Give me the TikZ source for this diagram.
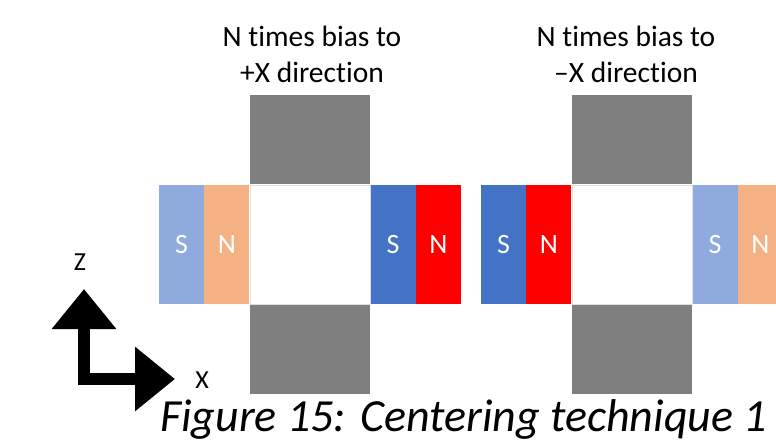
\documentclass[tikz,border=0pt]{standalone}
\usepackage{fontspec}
\setmainfont{Carlito}[Ligatures={TeX,NoCommon}]
\usetikzlibrary{arrows.meta, positioning}

\definecolor{weakS}{HTML}{8FAADC}
\definecolor{weakN}{HTML}{F4B183}
\definecolor{strongS}{HTML}{4472C4}
\definecolor{strongN}{HTML}{FF0000}
\definecolor{yoke}{HTML}{7F7F7F}

\begin{document}
\begin{tikzpicture}[x=1pt, y=-1pt,
  magnet/.style = {minimum width=45pt, minimum height=119pt, inner sep=0pt, text=white, font=\fontsize{28}{28}\selectfont},
  pole/.style = {fill=yoke, minimum width=120pt, minimum height=89pt, inner sep=0pt},
  gap/.style = {draw=gray!25, line width=0.7pt, minimum width=120pt, minimum height=119pt, inner sep=0pt},
  title/.style = {align=center, font=\fontsize{29.5}{36}\selectfont},
  axis/.style = {line width=12pt, line join=miter, {Triangle[length=40pt, width=62pt]}-{Triangle[length=40pt, width=62pt]}},
  node distance=0pt
]
  \useasboundingbox (0,0) rectangle (776,441);
  \clip (0,0) rectangle (776,441);

  % Left setup: bias to +X
  \node[gap] (gapA) at (310,244.5) {};
  \node[pole, above=0pt of gapA] (topA) {};
  \node[pole, below=0pt of gapA] (botA) {};
  \node[magnet, fill=weakN, left=0pt of gapA] (nA1) {N};
  \node[magnet, fill=weakS, left=0pt of nA1] (sA1) {S};
  \node[magnet, fill=strongS, right=0pt of gapA] (sA2) {S};
  \node[magnet, fill=strongN, right=0pt of sA2] (nA2) {N};
  \node[title] (titleA) at (312,54) {N times bias to\\+X direction};

  % Right setup: bias to -X
  \node[gap] (gapB) at (632,244.5) {};
  \node[pole, above=0pt of gapB] (topB) {};
  \node[pole, below=0pt of gapB] (botB) {};
  \node[magnet, fill=strongN, left=0pt of gapB] (nB1) {N};
  \node[magnet, fill=strongS, left=0pt of nB1] (sB1) {S};
  \node[magnet, fill=weakS, right=0pt of gapB] (sB2) {S};
  \node[magnet, fill=weakN, right=0pt of sB2] (nB2) {N};
  \node[title] (titleB) at (626,54) {N times bias to\\–X direction};

  % Axes
  \coordinate (zend) at (84,289);
  \coordinate (xend) at (175,379);
  \draw[axis] (zend) |- (xend);
  \node[font=\fontsize{26}{26}\selectfont] (zlabel) at (80,262) {Z};
  \node[font=\fontsize{26}{26}\selectfont] (xlabel) at (202,380) {X};

  % Caption
  \node[anchor=base west, inner sep=0pt, font=\fontsize{46}{46}\selectfont\itshape] (caption) at (160,431) {Figure 15: Centering technique 1};
\end{tikzpicture}
\end{document}
